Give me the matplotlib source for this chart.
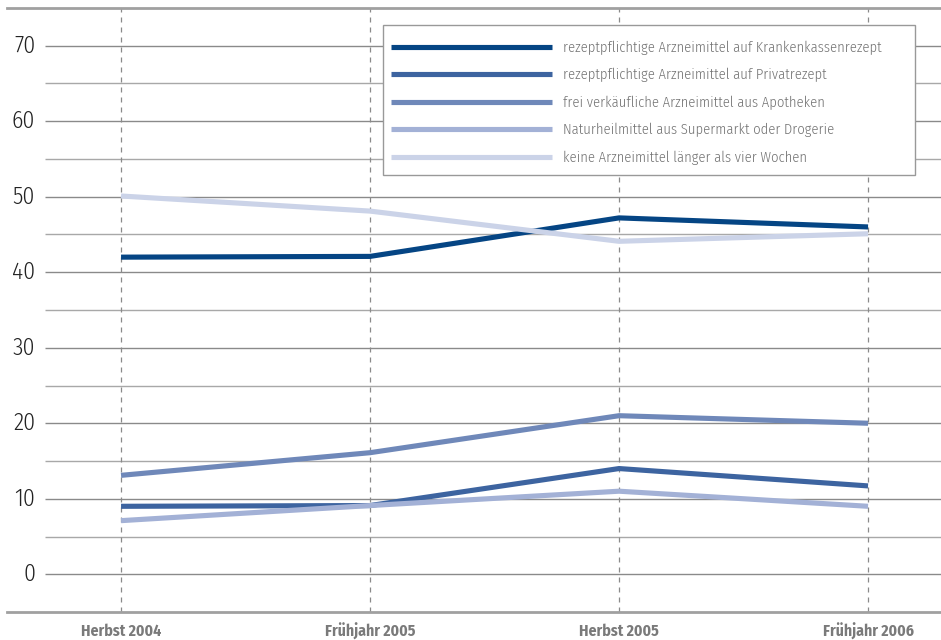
import matplotlib
matplotlib.use("Agg")
import matplotlib.pyplot as plt
from matplotlib.patches import Rectangle

periods = ["Herbst 2004", "Frühjahr 2005", "Herbst 2005", "Frühjahr 2006"]
series_names = [
    "rezeptpflichtige Arzneimittel auf Krankenkassenrezept",
    "rezeptpflichtige Arzneimittel auf Privatrezept",
    "frei verkäufliche Arzneimittel aus Apotheken",
    "Naturheilmittel aus Supermarkt oder Drogerie",
    "keine Arzneimittel länger als vier Wochen",
]
kassenrezept = [42.0, 42.1, 47.2, 46.0]
privatrezept = [9.0, 9.1, 14.0, 11.7]
apotheke = [13.1, 16.1, 21.0, 20.0]
naturheil = [7.1, 9.1, 11.0, 9.0]
keine = [50.1, 48.1, 44.1, 45.1]
yticks = [0, 10, 20, 30, 40, 50, 60, 70]

colors = ["#054584", "#3d64a0", "#6f88b9", "#a3b1d6", "#cbd3e8"]
series = [kassenrezept, privatrezept, apotheke, naturheil, keine]

cond = ["Fira Sans Condensed", "DejaVu Sans"]
W, H = 941, 640

fig = plt.figure(figsize=(W / 100, H / 100), dpi=100)
ax = fig.add_axes([7 / W, 1 - 612 / H, 1 - 7 / W, (612 - 8) / H])

xs = list(range(len(periods)))
xmin, xmax = -0.458, 3.293
ax.set_xlim(xmin, xmax)
ax.set_ylim(-5, 75)

# horizontal grid: full tens darker, the fives in between lighter
grid_start = -0.305
for v in range(5, 75, 5):
    c = "#8a8a8a" if v % 10 == 0 else "#a8a8a8"
    ax.hlines(v, grid_start, xmax, color=c, lw=1.0, zorder=1)
ax.hlines(0, grid_start, xmax, color="#8a8a8a", lw=1.0, zorder=1)

# dashed verticals at each survey wave
for x in xs:
    ax.axvline(x, color="#8a8a8a", lw=0.9, ls=(0, (4, 4)), zorder=1)

for name, vals, col in zip(series_names, series, colors):
    ax.plot(xs, vals, color=col, lw=3.7, label=name, zorder=3,
            solid_capstyle="butt", solid_joinstyle="round")

for s in ["left", "right"]:
    ax.spines[s].set_visible(False)
for s in ["top", "bottom"]:
    ax.spines[s].set_color("#a0a0a0")
    ax.spines[s].set_linewidth(2.0)

ax.set_yticks([])
for v in yticks:
    ax.text(-0.345, v, str(v), ha="right", va="center", fontsize=17,
            color="#222222", family=cond, fontweight=300)

ax.set_xticks([])
for x, lab in zip(xs, periods):
    ax.text(x, -0.040, lab, transform=ax.get_xaxis_transform(),
            ha="center", va="baseline", fontsize=11.3, fontweight="bold",
            color="#7a7a7a", family=cond)

# legend box drawn separately so its size is independent of the text padding
box = Rectangle((383 / W, 1 - 175 / H), 532 / W, 150 / H,
                transform=fig.transFigure, facecolor="white",
                edgecolor="#999999", lw=1.0, zorder=4, clip_on=False)
ax.add_patch(box)

leg = ax.legend(loc="upper left", bbox_to_anchor=(391 / W, 1 - 40.5 / H),
                bbox_transform=fig.transFigure, borderaxespad=0, borderpad=0,
                frameon=False, handlelength=11.1, handletextpad=0.75,
                labelspacing=0.91,
                prop={"family": cond, "size": 10.45, "weight": 300})
for t in leg.get_texts():
    t.set_color("#727272")
for h in leg.get_lines():
    h.set_linewidth(3.7)
leg.set_zorder(5)

fig.savefig("out.png", dpi=100)
